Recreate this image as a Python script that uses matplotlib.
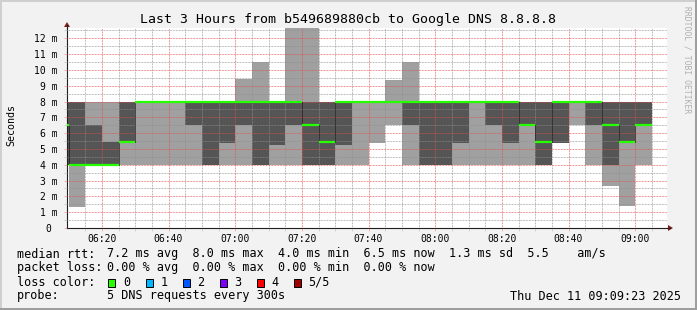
import numpy as np
import matplotlib
matplotlib.use("Agg")
import matplotlib.pyplot as plt
from matplotlib.patches import Rectangle, Polygon
from matplotlib.lines import Line2D

W, H = 697, 310
MONO = "DejaVu Sans Mono"

# step start times, minutes after 06:00 (06:05 ... 09:00, 5 minute steps)
step_start = [5, 10, 15, 20, 25, 30, 35, 40, 45, 50, 55, 60, 65, 70, 75, 80, 85, 90,
              95, 100, 105, 110, 115, 120, 125, 130, 135, 140, 145, 150, 155, 160,
              165, 170, 175, 180]
# the 5 sorted pings of each step (ms)
ping_1 = [4.0, 1.35, 4.0, 4.0, 4.0, 4.0, 4.0, 4.0, 4.0, 4.0, 4.0, 4.0, 4.0, 4.0, 4.0, 4.0, 4.0, 4.0,
          4.0, 5.4, 6.5, 4.0, 4.0, 4.0, 4.0, 4.0, 4.0, 4.0, 4.0, 4.0, 5.4, 6.5, 4.0, 2.63, 1.41, 4.0]
ping_2 = [4.0, 4.0, 4.0, 4.0, 5.45, 8.0, 8.0, 8.0, 6.5, 4.0, 5.4, 6.5, 4.0, 5.26, 6.5, 4.0, 4.0, 5.26,
          8.0, 8.0, 8.0, 6.5, 4.0, 4.0, 5.4, 8.0, 6.5, 5.4, 6.5, 4.0, 5.4, 8.0, 6.5, 4.0, 5.4, 6.5]
median = [6.5, 4.0, 4.0, 4.0, 5.45, 8.0, 8.0, 8.0, 8.0, 8.0, 8.0, 8.0, 8.0, 8.0, 8.0, 6.5, 5.45, 8.0,
          8.0, 8.0, 8.0, 8.0, 8.0, 8.0, 8.0, 8.0, 8.0, 8.0, 6.5, 5.45, 8.0, 8.0, 8.0, 6.5, 5.45, 6.5]
ping_4 = [8.0, 8.0, 6.5, 5.45, 8.0, 8.0, 8.0, 8.0, 8.0, 8.0, 8.0, 8.0, 8.0, 8.0, 8.0, 8.0, 8.0, 8.0,
          8.0, 8.0, 8.0, 8.0, 8.0, 8.0, 8.0, 8.0, 8.0, 8.0, 8.0, 8.0, 8.0, 8.0, 8.0, 8.0, 8.0, 8.0]
ping_5 = [8.0, 8.0, 8.0, 8.0, 8.0, 8.0, 8.0, 8.0, 8.0, 8.0, 8.0, 9.43, 10.5, 8.0, 14.0, 14.0, 8.0, 8.0,
          8.0, 8.0, 9.37, 10.5, 8.0, 8.0, 8.0, 8.0, 8.0, 8.0, 8.0, 8.0, 8.0, 8.0, 8.0, 8.0, 8.0, 8.0]

tick_pos = [20, 40, 60, 80, 100, 120, 140, 160, 180]
tick_labels = ["06:20", "06:40", "07:00", "07:20", "07:40", "08:00", "08:20", "08:40", "09:00"]
ytick_pos = list(range(13))
ytick_labels = ["0 "] + [f"{v} m" for v in range(1, 13)]

loss_labels = ["0", "1", "2", "3", "4", "5/5"]
loss_colors = ["#26ff00", "#00b8ff", "#0059ff", "#7e00ff", "#ff0000", "#a00000"]

GRID = (0.56, 0.56, 0.56, 0.40)
MGRID = (0.87, 0.31, 0.31, 0.45)


def px(x, y):
    return x / W, 1 - y / H


fig = plt.figure(figsize=(W / 100, H / 100), dpi=100, facecolor="#f2f2f2")
ax = fig.add_axes([67 / W, 1 - 228 / H, 600 / W, 200 / H])
ax.set_facecolor("white")

start = np.array(step_start, dtype=float)
edges = np.append(start, start[-1] + 5)
p1, p2, p3 = np.array(ping_1), np.array(ping_2), np.array(median)
p4, p5 = np.array(ping_4), np.array(ping_5)

# smoke: outer pings light, inner pings dark
ax.stairs(p5, edges, baseline=p1, fill=True, color="#a0a0a0", lw=0, zorder=1)
dark = p4 > p2
ax.stairs(np.where(dark, p4, np.nan), edges, baseline=np.where(dark, p2, np.nan),
          fill=True, color="#555555", lw=0, zorder=1.5)

# median line + dotted joins
ax.hlines(p3, start, start + 5, colors=loss_colors[0], lw=1.6, zorder=4)
chg = np.where(np.diff(p3) != 0)[0] + 1
ax.vlines(start[chg], np.minimum(p3[chg - 1], p3[chg]), np.maximum(p3[chg - 1], p3[chg]),
          colors="black", linestyles=(0, (1, 1)), lw=0.72, zorder=3.5)

ax.set_xlim(9.55, 189.55)
ax.set_ylim(0, 12.65)
ax.set_xticks(tick_pos, tick_labels)
ax.set_xticks(np.arange(15, 190, 5), minor=True)
ax.set_yticks(ytick_pos, ytick_labels)
ax.set_yticks(np.arange(0.5, 12.6, 1.0), minor=True)

ax.grid(True, which="minor", color=GRID, lw=0.55, linestyle=(0, (1, 1)), zorder=3)
ax.grid(True, which="major", color=MGRID, lw=0.55, linestyle=(0, (1, 1)), zorder=3)
ax.set_axisbelow(False)

for lab in ax.get_xticklabels() + ax.get_yticklabels():
    lab.set_fontfamily(MONO)
    lab.set_fontsize(7)
ax.tick_params(axis="both", which="major", length=2, width=0.6, color=MGRID)
ax.tick_params(axis="both", which="minor", length=2, width=0.6, color=GRID)
ax.tick_params(axis="x", pad=2)
ax.tick_params(axis="y", pad=4.5)

for s in ["top", "right"]:
    ax.spines[s].set_visible(False)
ax.spines["left"].set_color((0.12, 0.12, 0.12))
ax.spines["bottom"].set_color((0.12, 0.12, 0.12))
ax.spines["left"].set_linewidth(0.8)
ax.spines["bottom"].set_linewidth(0.8)

# axis arrows
arrow = (0.5, 0.12, 0.12)
fig.add_artist(Line2D(*zip(px(667, 228), px(670, 228)), color=(0.12, 0.12, 0.12), lw=0.8))
fig.add_artist(Polygon([px(668, 225), px(673, 228), px(668, 231)], closed=True,
                       transform=fig.transFigure, color=arrow, lw=0))
fig.add_artist(Line2D(*zip(px(67, 28), px(67, 25)), color=(0.12, 0.12, 0.12), lw=0.8))
fig.add_artist(Polygon([px(64, 27), px(67, 22), px(70, 27)], closed=True,
                       transform=fig.transFigure, color=arrow, lw=0))

# title, axis label, watermark
fig.text(*px(348.5, 19), "Last 3 Hours from b549689880cb to Google DNS 8.8.8.8",
         ha="center", va="center", fontfamily=MONO, fontsize=9.5)
fig.text(*px(11, 125), "Seconds", rotation=90, ha="center", va="center",
         fontfamily=MONO, fontsize=7.2)
fig.text(*px(686.5, 60), "RRDTOOL / TOBI OETIKER", rotation=270, ha="center", va="center",
         fontfamily=MONO, fontsize=5.8, color="#b0b0b0")

# legend lines
fs = 8.5
rows_y = [254, 268, 282, 296]
fig.text(*px(16.7, rows_y[0]), "median rtt:", va="center", fontfamily=MONO, fontsize=fs)
fig.text(*px(107.3, rows_y[0]),
         "7.2 ms avg  8.0 ms max  4.0 ms min  6.5 ms now  1.3 ms sd  5.5    am/s",
         va="center", fontfamily=MONO, fontsize=fs)
fig.text(*px(16.7, rows_y[1]), "packet loss:", va="center", fontfamily=MONO, fontsize=fs)
fig.text(*px(107.3, rows_y[1]), "0.00 % avg  0.00 % max  0.00 % min  0.00 % now",
         va="center", fontfamily=MONO, fontsize=fs)
fig.text(*px(16.7, rows_y[2]), "loss color:", va="center", fontfamily=MONO, fontsize=fs)
box_x = [108.3, 145.7, 182.7, 219.7, 256.7, 293.7]
for bx, lab, col in zip(box_x, loss_labels, loss_colors):
    fig.add_artist(Rectangle(px(bx, 286.5), 7 / W, 7.5 / H, transform=fig.transFigure,
                             facecolor=col, edgecolor="black", lw=0.7))
    fig.text(*px(bx + 14.5, rows_y[2]), lab, va="center", fontfamily=MONO, fontsize=fs)
fig.text(*px(16.7, rows_y[3]), "probe:", va="center", fontfamily=MONO, fontsize=fs)
fig.text(*px(107.3, rows_y[3]), "5 DNS requests every 300s", va="center",
         fontfamily=MONO, fontsize=fs)
fig.text(*px(680.7, rows_y[3]), "Thu Dec 11 09:09:23 2025", ha="right", va="center",
         fontfamily=MONO, fontsize=fs)

# 3d frame
shade_a, shade_b = "#cfcfcf", "#9e9e9e"
fig.add_artist(Rectangle((0, 1 - 2 / H), 1, 2 / H, transform=fig.transFigure, color=shade_a, lw=0))
fig.add_artist(Rectangle((0, 0), 2 / W, 1, transform=fig.transFigure, color=shade_a, lw=0))
fig.add_artist(Rectangle((0, 0), 1, 2 / H, transform=fig.transFigure, color=shade_b, lw=0))
fig.add_artist(Rectangle((1 - 2 / W, 0), 2 / W, 1, transform=fig.transFigure, color=shade_b, lw=0))

fig.savefig("out.png", dpi=100, facecolor=fig.get_facecolor())
